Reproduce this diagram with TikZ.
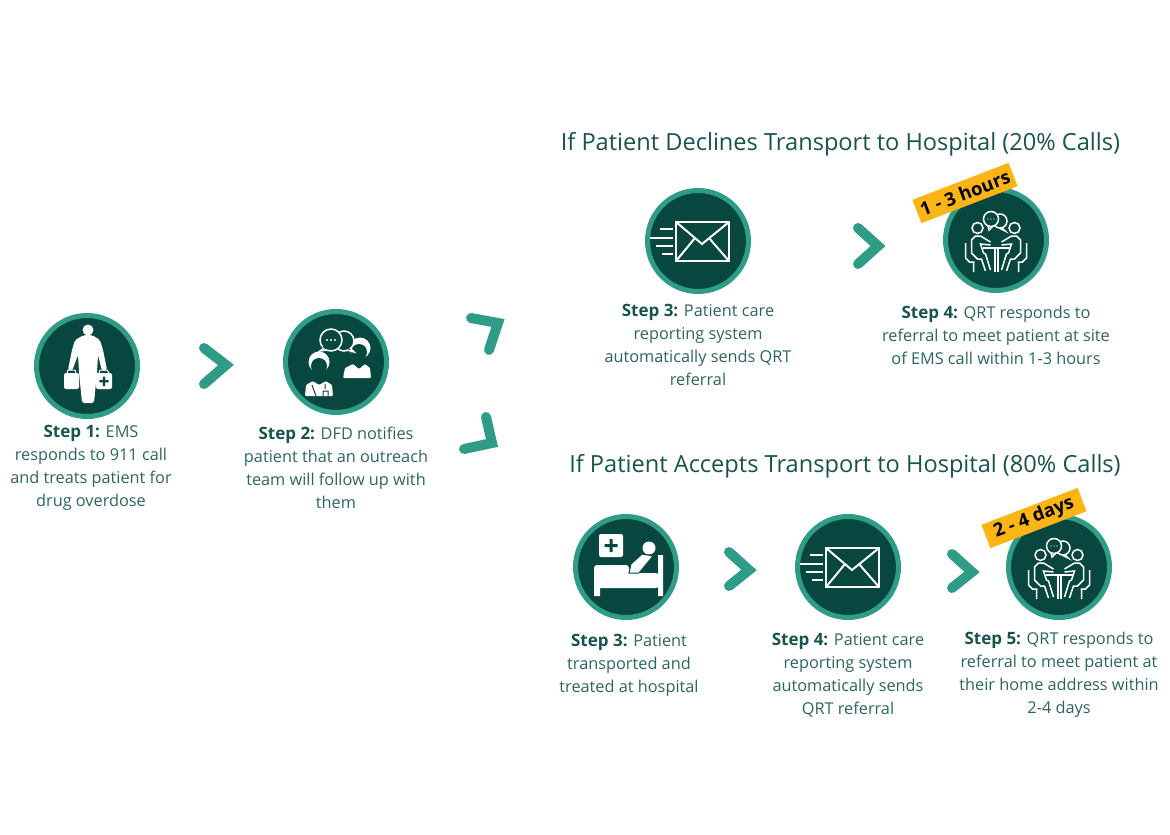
\documentclass[tikz,border=0pt]{standalone}
\usepackage{fontspec}
\setmainfont{Open Sans}
\usepackage{tikz}
\definecolor{circledark}{HTML}{07473F}
\definecolor{ringteal}{HTML}{2F9C88}
\definecolor{titleteal}{HTML}{17544F}
\definecolor{bodyteal}{HTML}{2A6660}
\definecolor{badgeorange}{HTML}{FDB515}
\tikzstyle{stepcircle} = [circle, minimum size=101pt, inner sep=0pt, draw=ringteal, line width=5pt, fill=circledark]
\tikzstyle{steptext} = [align=center, text=bodyteal, font=\fontsize{16.3}{23}\selectfont, inner sep=0pt]
\tikzstyle{heading} = [text=titleteal, font=\fontsize{23.6}{28}\selectfont, inner sep=0pt]
\tikzstyle{badge} = [fill=badgeorange, text=black, font=\fontsize{18.5}{22}\bfseries\selectfont, rotate=21, inner sep=0pt, minimum height=25pt]
\tikzstyle{chevron} = [ringteal, line width=10pt, line cap=round, line join=miter]
\tikzstyle{iconline} = [white, line width=1.5pt]
\newcommand{\stepname}[1]{{\color{titleteal}\fontsize{17}{23}\bfseries\selectfont #1}}
\tikzset{
  pics/walker/.style={code={
    \fill[white] (1,-36) circle [radius=5.5];
    \fill[white, rounded corners=2pt] (-3,-31) -- (-12,-26) -- (-15,-16) -- (-19,4) -- (-15,5) -- (-9,-11) -- (-8,6) -- (-5,37) -- (7,37) -- (10,6) -- (11,-11) -- (15,5) -- (20,4) -- (16,-16) -- (13,-26) -- (5,-31) -- cycle;
    \fill[white, rounded corners=2pt] (-23,7) rectangle (-8,23);
    \fill[white, rounded corners=2pt] (9,7) rectangle (25,23);
    \draw[white, line width=1pt] (-20,7) -- (-19,4) -- (-12,4) -- (-11,7) (12,7) -- (13,4) -- (20,4) -- (22,7);
    \fill[circledark] (15.8,10.5) rectangle (18.2,20) (12.3,14) rectangle (21.7,16.4);
  }},
  pics/doctors/.style={code={
    \fill[white] (24,-14) circle [radius=10.5];
    \fill[circledark] (23,-10) circle [radius=8];
    \fill[white, rounded corners=1pt] (7,16) -- (9,6) -- (17,2) -- (23,7) -- (29,2) -- (34,6) -- (35,16) -- cycle;
    \draw[iconline, fill=circledark] (8,-21) circle [radius=10];
    \draw[iconline, fill=circledark] (14,-14) -- (18,-10) -- (11,-12);
    \draw[iconline, fill=circledark] (-5,-22) circle [radius=11];
    \fill[circledark] (-12,-16) -- (-9,-12) -- (-14,-15) -- cycle;
    \draw[iconline] (-12,-14) -- (-16,-11) -- (-9,-12);
    \fill[white] (-9,-22) circle [radius=1.1] (-5,-22) circle [radius=1.1] (-1,-22) circle [radius=1.1];
    \fill[white] (-17,0) circle [radius=10.5];
    \fill[circledark] (-17,4) circle [radius=8];
    \fill[white, rounded corners=1pt] (-31,34) -- (-30,23) -- (-23,19) -- (-17,23) -- (-10,19) -- (-4,23) -- (-3,34) -- cycle;
    \draw[circledark, line width=1pt] (-24,23) -- (-20,34) (-11,22) -- (-11,27) (-8,34) -- (-8,29) -- (-13,29) -- (-13,34);
  }},
  pics/envelope/.style={code={
    \draw[iconline, line width=2pt] (-22,-19) rectangle (31,20);
    \draw[iconline, line width=2pt] (-22,-19) -- (4,3) -- (31,-19) (-22,20) -- (-3,-3) (31,20) -- (11,-3);
    \draw[iconline, line width=2pt] (-38,-12) -- (-25,-12) (-48,-3) -- (-25,-3) (-42,5) -- (-25,5) (-36,13) -- (-25,13);
  }},
  pics/meeting/.style={code={
    \draw[iconline] (4,-19) circle [radius=7];
    \draw[iconline] (6,-12) -- (9,-9) -- (3,-12);
    \draw[iconline, fill=circledark] (-5,-21) circle [radius=7.5];
    \draw[iconline] (-8,-14) -- (-7,-10) -- (-3,-14);
    \fill[white] (-8,-21) circle [radius=.7] (-5,-21) circle [radius=.7] (-2,-21) circle [radius=.7];
    \draw[iconline] (-13,8) -- (14,8) (-1,8) -- (-1,32) (2,8) -- (2,32);
    \foreach \side in {-1,1} {
      \begin{scope}[xscale=\side, xshift=-.5pt]
        \draw[iconline] (-18,-12) circle [radius=5.5];
        \draw[iconline] (-5,2) -- (-15,-4) -- (-20,-4) -- (-24,0) -- (-24,13) -- (-18,19) -- (-14,19) -- (-10,31);
        \draw[iconline] (-5,5) -- (-15,4) -- (-12,13) -- (-10,14) -- (-5,30);
        \draw[iconline] (-30,3) -- (-30,18) -- (-26,22) -- (-21,22) (-22,22) -- (-22,32);
      \end{scope}
    }
  }},
  pics/bedpatient/.style={code={
    \fill[white, rounded corners=2pt] (-27,-33) rectangle (-3,-10);
    \fill[circledark] (-16.5,-28) rectangle (-13.5,-15) (-21.5,-23) rectangle (-8.5,-20);
    \fill[white] (23,-19) circle [radius=6.5];
    \fill[white, rounded corners=3pt] (-32,21) -- (-32,-2) -- (3,-2) -- (3,6) -- (33,6) -- (33,21) -- cycle;
    \fill[white, draw=circledark, line width=1pt] (16,-13) -- (27,-11) -- (13,6) -- (3,6) -- (5,-3) -- cycle;
    \fill[white] (-32,18) rectangle (-26,29) (32,-12) rectangle (37,29);
    \fill[white] (-32,18) rectangle (37,20);
  }}
}
\begin{document}
\begin{tikzpicture}[x=1pt, y=-1pt, node distance=100pt]
\useasboundingbox (0,0) rectangle (1170,835);

\node (ems) [stepcircle] at (87,366) {};
\node (dfd) [stepcircle] at (336,362) {};
\node (mailA) [stepcircle] at (698,241) {};
\node (qrtA) [stepcircle] at (996,240) {};
\node (hospital) [stepcircle] at (626,567) {};
\node (mailB) [stepcircle] at (848,567) {};
\node (qrtB) [stepcircle] at (1059,567) {};

\pic at (ems) {walker};
\pic at (dfd) {doctors};
\pic at (mailA) {envelope};
\pic at (qrtA) {meeting};
\pic at (hospital) {bedpatient};
\pic at (mailB) {envelope};
\pic at (qrtB) {meeting};

\node (emstext) [steptext, below of=ems, node distance=102pt, xshift=4pt] {\stepname{Step 1:} EMS\\responds to 911 call\\and treats patient for\\drug overdose};
\node (dfdtext) [steptext, below of=dfd, node distance=106pt] {\stepname{Step 2:} DFD notifies\\patient that an outreach\\team will follow up with\\them};
\node (mailAtext) [steptext, below of=mailA, node distance=104pt] {\stepname{Step 3:} Patient care\\reporting system\\automatically sends QRT\\referral};
\node (qrtAtext) [steptext, below of=qrtA, node distance=95pt] {\stepname{Step 4:} QRT responds to\\referral to meet patient at site\\of EMS call within 1-3 hours};
\node (hospitaltext) [steptext, below of=hospital, node distance=98pt, xshift=3pt] {\stepname{Step 3:} Patient\\transported and\\treated at hospital};
\node (mailBtext) [steptext, below of=mailB, node distance=108pt] {\stepname{Step 4:} Patient care\\reporting system\\automatically sends\\QRT referral};
\node (qrtBtext) [steptext, below of=qrtB, node distance=108pt] {\stepname{Step 5:} QRT responds to\\referral to meet patient at\\their home address within\\2-4 days};

\node (declines) [heading] at (840.5,144) {If Patient Declines Transport to Hospital (20\% Calls)};
\node (accepts) [heading] at (845,466) {If Patient Accepts Transport to Hospital (80\% Calls)};

\node (hoursbadge) [badge, minimum width=103pt] at (965,193) {1 - 3 hours};
\node (daysbadge) [badge, minimum width=103pt] at (1034,518) {2 - 4 days};

\draw [chevron] (204,348) -- (226,365) -- (204,384);
\draw [chevron] (471,318) -- (498,323) -- (489,350);
\draw [chevron] (486,417) -- (492,443) -- (464,449);
\draw [chevron] (858,228) -- (878,246) -- (858,264);
\draw [chevron] (729,552) -- (749,570) -- (729,586);
\draw [chevron] (952,554) -- (972,572) -- (952,588);

\end{tikzpicture}
\end{document}
